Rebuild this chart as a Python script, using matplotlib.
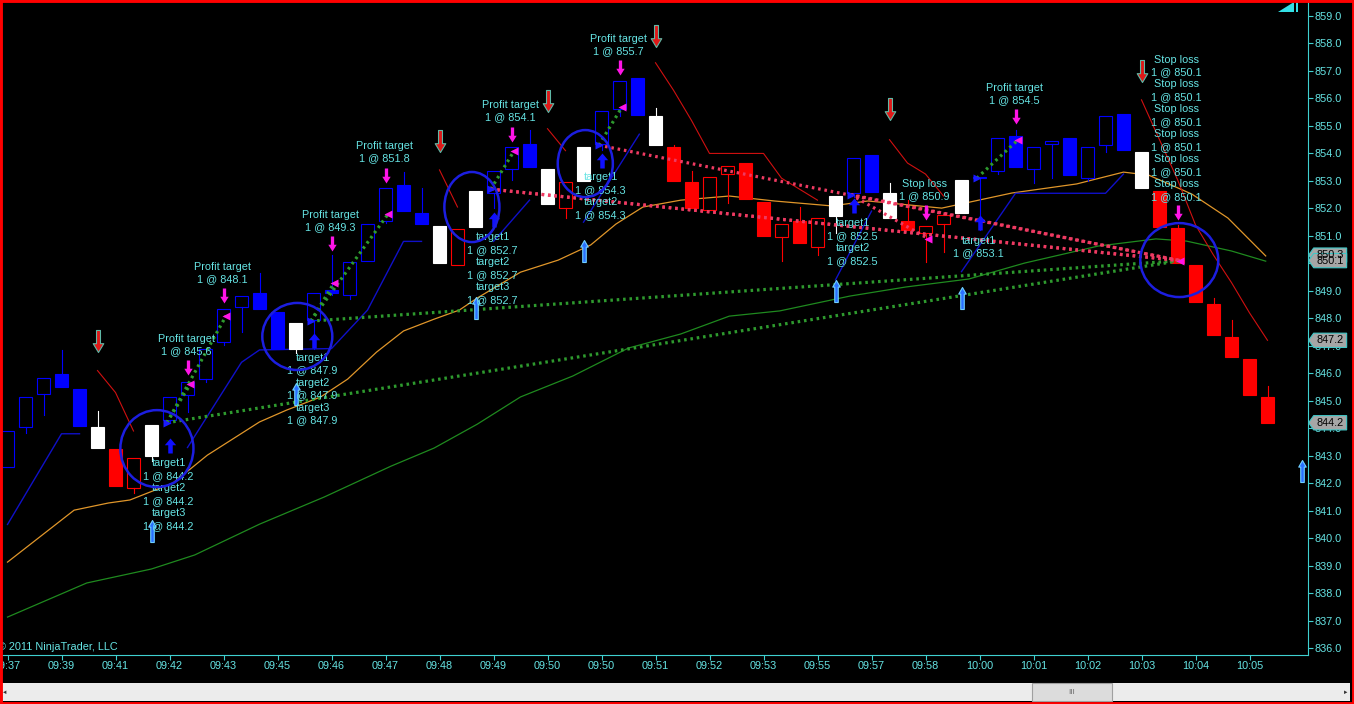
import matplotlib
matplotlib.use("Agg")
import matplotlib.pyplot as plt
from matplotlib.patches import Rectangle, Ellipse, Polygon
from matplotlib.path import Path
from matplotlib.transforms import blended_transform_factory

plt.rcParams['font.family'] = ['Liberation Sans', 'DejaVu Sans']

W, H = 1354, 704
AXIS_C = '#3fd0d0'
TEXT_C = '#66e4e4'
FS = 7.8

# ---- bars (one per tick label third) ----
time_labels = ['09:37', '09:39', '09:41', '09:42', '09:43', '09:45', '09:46', '09:47',
               '09:48', '09:49', '09:50', '09:50', '09:51', '09:52', '09:53', '09:55',
               '09:57', '09:58', '10:00', '10:01', '10:02', '10:03', '10:04', '10:05']

opens = [842.6, 844.04, 845.24, 845.97, 845.43, 844.04, 843.24, 841.82, 844.12, 844.3,
         845.21, 845.8, 847.14, 848.41, 848.92, 848.23, 847.83, 847.94, 849.03, 848.85,
         850.08, 851.54, 852.85, 851.83, 851.36, 849.94, 852.63, 852.56, 853.43, 854.34,
         853.43, 852.01, 854.23, 854.34, 855.62, 856.74, 855.36, 854.23, 852.96, 851.94,
         853.25, 853.65, 852.23, 850.96, 851.54, 850.59, 852.45, 852.56, 853.94, 852.56,
         851.54, 851.1, 851.43, 853.03, 853.14, 853.36, 854.63, 853.43, 854.34, 854.56,
         853.1, 854.31, 855.43, 854.05, 852.63, 851.29, 849.94, 848.52, 847.32, 846.52,
         845.14]
closes = [843.9, 845.14, 845.83, 845.5, 844.08, 843.28, 841.9, 842.92, 842.99, 845.14,
          845.68, 846.9, 848.34, 848.81, 848.34, 846.88, 846.88, 848.92, 848.92, 850.05,
          851.43, 852.74, 851.9, 851.43, 850.01, 851.25, 851.32, 853.36, 854.23, 853.5,
          852.16, 852.96, 853.0, 855.54, 856.63, 855.4, 854.31, 853.0, 852.01, 853.14,
          853.54, 852.34, 850.99, 851.43, 850.74, 851.65, 851.72, 853.83, 852.6, 851.65,
          851.21, 851.36, 851.76, 851.83, 853.1, 854.56, 853.5, 854.23, 854.45, 853.21,
          854.23, 855.36, 854.12, 852.74, 851.32, 850.01, 848.59, 847.39, 846.59, 845.21,
          844.19]
highs = [843.9, 845.14, 845.83, 846.85, 845.43, 844.63, 843.24, 842.92, 844.12, 845.14,
         845.68, 846.9, 848.34, 848.81, 849.65, 848.23, 847.83, 848.92, 850.3, 850.05,
         851.43, 852.74, 853.32, 852.74, 851.36, 851.25, 852.63, 853.36, 854.23, 854.85,
         853.43, 852.96, 854.23, 855.54, 856.63, 856.74, 855.65, 854.3, 853.36, 853.14,
         853.54, 853.65, 852.23, 851.43, 852.05, 851.65, 852.45, 853.83, 853.94, 852.92,
         852.3, 851.36, 851.76, 853.03, 853.14, 854.56, 854.85, 854.23, 854.45, 854.56,
         854.23, 855.36, 855.43, 854.05, 852.63, 851.4, 849.94, 848.74, 847.94, 846.52,
         845.54]
lows = [842.6, 843.83, 844.48, 845.5, 844.08, 843.28, 841.9, 841.64, 842.81, 844.2,
        844.59, 845.68, 847.03, 847.5, 848.34, 846.88, 846.75, 846.88, 848.85, 848.7,
        850.08, 851.46, 851.9, 851.43, 850.01, 849.94, 851.32, 852.01, 853.03, 853.5,
        852.16, 851.65, 853.0, 854.12, 855.36, 855.4, 854.31, 853.0, 852.01, 851.94,
        852.2, 852.34, 850.99, 850.08, 850.74, 850.3, 851.1, 852.4, 852.6, 851.65,
        851.21, 850.05, 850.41, 851.83, 851.2, 853.25, 853.5, 852.92, 853.1, 853.21,
        853.0, 854.05, 854.12, 852.74, 851.32, 850.01, 848.59, 847.39, 846.59, 845.21,
        844.19]
bar_colors = list("bbbbbwrrwb" "bbbbbbwbbb" "bbbbwrwbbb" "wrwbbbwrrr"
                  "rrrrrrwbbw" "rrrwbbbbbb" "bbbwrrrrrr" "r")

# ---- indicators (bar position, price) ----
fast_ma_x = [0, 3.7, 5.6, 6.8, 9.2, 11.1, 14.0, 15.5, 17.4, 18.9, 20.5, 22.0, 23.7, 25.1,
             26.1, 28.5, 30.6, 32.4, 33.8, 35.3, 37.4, 40.1, 42.6, 45.8, 47.8, 51.9, 55.8,
             59.4, 62.0, 63.4, 65.8, 67.8, 69.9]
fast_ma_y = [839.13, 841.02, 841.28, 841.39, 842.01, 843.02, 844.23, 844.66, 845.14, 845.79,
             846.77, 847.54, 847.97, 848.30, 848.74, 849.68, 850.12, 850.67, 851.43, 852.05,
             852.30, 852.45, 852.27, 852.09, 852.27, 852.01, 852.56, 852.89, 853.32, 853.21,
             852.52, 851.65, 850.27]
slow_ma_x = [0, 4.4, 8.0, 10.4, 14.0, 17.6, 21.3, 23.7, 26.1, 28.5, 31.4, 34.5, 37.4, 40.1,
             42.9, 45.5, 46.8, 49.9, 53.4, 56.5, 60.6, 63.8, 65.5, 68.0, 69.9]
slow_ma_y = [837.13, 838.37, 838.88, 839.39, 840.51, 841.50, 842.62, 843.28, 844.15, 845.14,
             845.90, 846.92, 847.43, 848.08, 848.27, 848.63, 848.81, 849.14, 849.43, 850.01,
             850.63, 850.89, 850.81, 850.45, 850.08]
trail_long = [([0, 3, 4], [840.5, 843.8, 843.8]),
              ([10, 13, 14, 18, 20, 22, 23], [843.3, 846.4, 846.85, 846.9, 848.3, 850.8, 850.8]),
              ([27, 29], [850.8, 852.3]),
              ([32, 35.1], [851.5, 854.7]),
              ([46, 48], [849.4, 851.9]),
              ([53, 56, 61, 62], [849.7, 852.55, 852.55, 853.25])]
trail_short = [([5, 6, 7], [846.1, 845.3, 843.9]),
               ([24, 25], [853.4, 852.05]),
               ([30, 31], [854.9, 854.1]),
               ([36, 37, 38, 39, 42, 43, 45], [857.3, 856.3, 855.2, 854.0, 854.0, 853.1, 852.3]),
               ([49, 50, 51, 52], [854.5, 853.65, 853.25, 852.45]),
               ([63, 64, 65, 66, 67, 68, 69, 70],
                [855.95, 854.5, 853.05, 851.4, 850.3, 849.3, 848.2, 847.2])]

# ---- trades ----
entry_bar = [9, 17, 27, 33, 47, 54]
entry_price = [844.2, 847.9, 852.7, 854.3, 852.5, 853.1]
entry_targets = [3, 3, 3, 2, 2, 1]
entry_label_y = [841.59, 845.43, 849.81, 852.45, 850.78, 850.59]
entry_arrow_tip = [843.64, 847.46, 851.87, 854.01, 852.38, 851.76]

exit_bar = [10, 12, 18, 21, 28, 34, 51, 56, 65]
exit_price = [845.6, 848.1, 849.3, 851.8, 854.1, 855.7, 850.9, 854.5, 850.1]
exit_name = ['Profit target'] * 6 + ['Stop loss', 'Profit target', 'Stop loss']
exit_count = [1, 1, 1, 1, 1, 1, 1, 1, 6]
exit_label_y = [847.03, 849.65, 851.54, 854.05, 855.54, 857.94, 852.67, 856.16, 854.92]
exit_arrow_tip = [845.94, 848.56, 850.45, 852.92, 854.41, 856.85, 851.58, 855.07, 851.58]

# (entry, exit) pairs
trade_pairs = [(0, 0), (0, 1), (0, 8), (1, 2), (1, 3), (1, 8), (2, 4), (2, 8), (2, 8),
               (3, 5), (3, 8), (4, 6), (4, 8), (5, 7)]

sell_bar = [5, 24, 30, 36, 49, 63]
sell_tip = [846.77, 854.05, 855.51, 857.87, 855.22, 856.6]
buy_bar = [8, 16, 26, 32, 46, 53, 71.9]
buy_tip = [840.66, 845.64, 848.77, 850.85, 849.39, 849.14, 842.84]

circle_x = [8.3, 16.1, 25.8, 32.1, 65.1]
circle_y = [843.26, 847.34, 852.05, 853.63, 850.12]
circle_w = [4.06, 3.89, 3.06, 3.06, 4.33]
circle_h = [2.80, 2.44, 2.55, 2.44, 2.69]

flag_labels = ['850.3', '850.1', '847.2', '844.2']
flag_prices = [850.3, 850.1, 847.2, 844.2]


def arrow_path(head_w, shaft_w, head_h, up=True):
    s = -1 if up else 1
    verts = [(0, 0), (head_w, s * head_h), (shaft_w, s * head_h), (shaft_w, s),
             (-shaft_w, s), (-shaft_w, s * head_h), (-head_w, s * head_h), (0, 0)]
    codes = [Path.MOVETO] + [Path.LINETO] * 6 + [Path.CLOSEPOLY]
    return Path(verts, codes)


fig = plt.figure(figsize=(W / 100, H / 100), dpi=100, facecolor='black')
ax = fig.add_axes([2 / W, 1 - 655 / H, 1306 / W, 653 / H])
ax.set_facecolor('black')
ax.set_xlim(-0.306, 72.25)
ax.set_ylim(835.75, 859.51)

# moving averages
ax.plot(slow_ma_x, slow_ma_y, color='#1f8a1f', lw=0.9, zorder=2)
ax.plot(fast_ma_x, fast_ma_y, color='#e0962a', lw=0.9, zorder=2)
for xs, ys in trail_long:
    ax.plot(xs, ys, color='#1010c8', lw=1.0, zorder=2)
for xs, ys in trail_short:
    ax.plot(xs, ys, color='#d01010', lw=0.8, zorder=2)

# candles
col_map = {'b': '#0000ff', 'w': '#ffffff', 'r': '#ff0000'}
bw = 0.72
for i, (o, h, l, c, k) in enumerate(zip(opens, highs, lows, closes, bar_colors)):
    col = col_map[k]
    top, bot = max(o, c), min(o, c)
    if h > top:
        ax.plot([i, i], [top, h], color=col, lw=0.8, zorder=3)
    if l < bot:
        ax.plot([i, i], [l, bot], color=col, lw=0.8, zorder=3)
    filled = c < o
    ax.add_patch(Rectangle((i - bw / 2, bot), bw, max(top - bot, 0.04),
                           facecolor=col if filled else 'none', edgecolor=col,
                           lw=0.8, zorder=3))

# trade connection lines
for e, x in trade_pairs:
    win = exit_price[x] > entry_price[e]
    ax.plot([entry_bar[e] - 0.15, exit_bar[x] + 0.15], [entry_price[e], exit_price[x]],
            color='#2e9a2e' if win else '#ee3a62', lw=2.3, ls=(0, (0.8, 1.2)),
            zorder=4, dash_capstyle='butt')

# markers
sell_m = arrow_path(0.24, 0.09, 0.4, up=False)
buy_m = arrow_path(0.17, 0.08, 0.3, up=True)
entry_m = arrow_path(0.38, 0.15, 0.45, up=True)
exit_m = arrow_path(0.28, 0.11, 0.45, up=False)
ax.plot(sell_bar, sell_tip, ls='none', marker=sell_m, ms=31.7, mfc='#e01818',
        mec='#5fb8a6', mew=0.8, zorder=5)
ax.plot(buy_bar, buy_tip, ls='none', marker=buy_m, ms=31.7, mfc='#2a70ff',
        mec='#70d0ff', mew=0.8, zorder=5)
ax.plot(entry_bar, entry_arrow_tip, ls='none', marker=entry_m, ms=21.6, mfc='#1010ff',
        mec='none', zorder=5)
ax.plot(exit_bar, exit_arrow_tip, ls='none', marker=exit_m, ms=21.6, mfc='#ff14e6',
        mec='none', zorder=5)
ax.plot([b - 0.15 for b in entry_bar], entry_price, ls='none', marker='>', ms=5.5,
        mfc='#1a1aff', mec='none', zorder=6)
ax.plot([b + 0.15 for b in exit_bar], exit_price, ls='none', marker='<', ms=5.5,
        mfc='#ff14e6', mec='none', zorder=6)

# order labels
LS = 1.31
for k in range(len(entry_bar)):
    lines = []
    for t in range(entry_targets[k]):
        lines += [f'target{t + 1}', f'1 @ {entry_price[k]:.1f}']
    ax.text(entry_bar[k] - 0.05, entry_label_y[k], '\n'.join(lines), color=TEXT_C,
            fontsize=FS, ha='center', va='center', multialignment='center',
            linespacing=LS, zorder=7)
for k in range(len(exit_bar)):
    lines = [exit_name[k], f'1 @ {exit_price[k]:.1f}'] * exit_count[k]
    ax.text(exit_bar[k] - 0.05, exit_label_y[k], '\n'.join(lines), color=TEXT_C,
            fontsize=FS, ha='center', va='center', multialignment='center',
            linespacing=LS, zorder=7)

# hand-drawn circles
for cx, cy, cw, ch in zip(circle_x, circle_y, circle_w, circle_h):
    ax.add_patch(Ellipse((cx, cy), cw, ch, fill=False, edgecolor='#1c1ee0', lw=1.8,
                         zorder=8))

# axes styling
for side in ['left', 'top']:
    ax.spines[side].set_visible(False)
for side in ['right', 'bottom']:
    ax.spines[side].set_color(AXIS_C)
    ax.spines[side].set_linewidth(0.8)
ax.yaxis.tick_right()
ax.set_yticks(range(836, 860))
ax.set_yticklabels([f'{v:.1f}' for v in range(836, 860)])
ax.set_xticks(range(0, 72, 3))
ax.set_xticklabels(time_labels)
ax.tick_params(axis='both', colors=AXIS_C, labelcolor=TEXT_C, labelsize=FS,
               length=3.6, width=0.8, direction='out', pad=1)

# price flags on the axis
tr = blended_transform_factory(ax.transAxes, ax.transData)
fw = 38 / 1306
fh = 5 / 1306
hh = 0.26
for lab, p in zip(flag_labels, flag_prices):
    ax.add_patch(Polygon([(1.0005, p), (1.0005 + fh, p + hh), (1.0005 + fw, p + hh),
                          (1.0005 + fw, p - hh), (1.0005 + fh, p - hh)], closed=True,
                         transform=tr, facecolor='#a6a6a6', edgecolor='#40c8c8',
                         lw=0.8, clip_on=False, zorder=9))
    ax.text(1.0005 + (fw + fh) / 2, p, lab, transform=tr, color='black', fontsize=FS,
            ha='center', va='center', clip_on=False, zorder=10)

ax.text(-4 / 1306, 8 / 653, '\u00a9 2011 NinjaTrader, LLC', transform=ax.transAxes,
        color=TEXT_C, fontsize=FS, ha='left', va='center')

# chrome: corner marker, scrollbar, red frame
fig.add_artist(Polygon([(1278 / W, 1 - 12 / H), (1294 / W, 1 - 2 / H), (1294 / W, 1 - 12 / H)],
                       closed=True, transform=fig.transFigure, facecolor='#33e0e6',
                       edgecolor='none'))
fig.add_artist(Rectangle((1296 / W, 1 - 12 / H), 2 / W, 10 / H, transform=fig.transFigure,
                         facecolor='#33e0e6', edgecolor='none'))
fig.add_artist(Rectangle((2 / W, 3 / H), 1348 / W, 18 / H, transform=fig.transFigure,
                         facecolor='#ececec', edgecolor='none'))
fig.add_artist(Rectangle((1032 / W, 3 / H), 80 / W, 18 / H, transform=fig.transFigure,
                         facecolor='#dcdcdc', edgecolor='#a0a0a0', lw=0.8))
fig.text(1072 / W, 12 / H, 'III', color='#707070', fontsize=6, ha='center', va='center')
fig.text(5 / W, 12 / H, '\u25c4', color='#303030', fontsize=4, ha='center', va='center')
fig.text(1346 / W, 12 / H, '\u25ba', color='#303030', fontsize=4, ha='center', va='center')
fig.add_artist(Rectangle((0, 0), 1, 1, transform=fig.transFigure, fill=False,
                         edgecolor='#ff0000', lw=3.5))

fig.savefig('out.png', dpi=100, facecolor='black')
